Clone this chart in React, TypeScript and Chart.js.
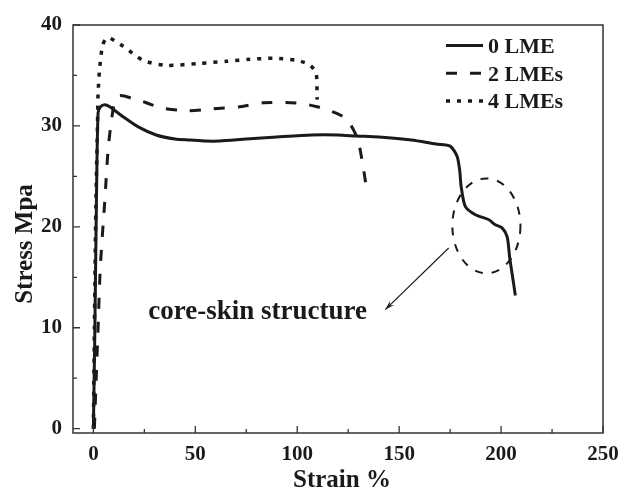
import React, { useEffect, useRef } from "react";
import { Chart, registerables } from "chart.js";

Chart.register(...registerables);

// ---- Data ----
const strain0 = [0, 0.7, 1.5, 2.3, 3.5, 5.6, 8, 14.6, 22, 30.8, 40, 47.5, 55, 62, 75, 90, 107, 120, 129, 140, 156, 168, 175, 178.4, 179.7, 180.4, 182.5, 187.4, 194, 197.2, 200.5, 203, 204.2, 205.9, 207];
const stress0 = [0, 9.5, 22.6, 31.3, 31.9, 32.1, 31.9, 30.9, 29.9, 29.1, 28.7, 28.6, 28.5, 28.5, 28.7, 28.9, 29.1, 29.1, 29.0, 28.9, 28.6, 28.2, 28.0, 27.0, 25.6, 24.0, 22.0, 21.2, 20.7, 20.2, 19.9, 19.0, 17.0, 14.7, 13.2];

const strain2 = [0.5, 1.2, 2.3, 3.4, 5.6, 7.2, 8.7, 10.5, 13, 19.5, 26, 33, 45.5, 58.8, 72, 83.4, 96.6, 103, 109.7, 116, 122.7, 126.5, 129.8, 132.3, 133.9];
const stress2 = [0, 4, 10, 16, 22.6, 27.6, 30.3, 32.4, 33.0, 32.7, 32.3, 31.8, 31.5, 31.7, 31.9, 32.3, 32.3, 32.2, 31.9, 31.5, 30.9, 30.0, 28.6, 26.0, 23.9];

const strain4 = [0, 0.5, 1.2, 2.0, 2.3, 3.0, 4.4, 6, 8, 14.6, 24.4, 35.7, 52.2, 65.3, 76.8, 88.4, 99.8, 106.4, 109.3, 109.7, 109.8];
const stress4 = [0, 10, 22, 30, 33.2, 35.5, 37.9, 38.6, 38.7, 37.9, 36.5, 36.0, 36.2, 36.4, 36.6, 36.7, 36.5, 36.0, 35.2, 32.9, 32.6];

const seriesLabels = ["0 LME", "2 LMEs", "4 LMEs"];
const xTicks = [0, 50, 100, 150, 200, 250];
const yTicks = [0, 10, 20, 30, 40];
const xMinorTicks = [25, 75, 125, 175, 225];
const yMinorTicks = [5, 15, 25, 35];
const xTitle = "Strain %";
const yTitle = "Stress Mpa";

// annotation (data units)
const annotationText = "core-skin structure";
const annotationTextAt = [26.9, 10.9];
const ellipseCenter = [192.8, 20.1];
const ellipseRadii = [16.7, 4.7];
const arrowFrom = [174.3, 17.9];
const arrowTo = [143.2, 11.8];

const FONT = "'Liberation Serif', 'Times New Roman', serif";
const INK = "#1a1a1a";

function toPoints(xs: number[], ys: number[]) {
  return xs.map((x, i) => ({ x, y: ys[i] }));
}

const decorPlugin = {
  id: "decor",
  afterDatasetsDraw(chart: any) {
    const { ctx, chartArea: a, scales } = chart;
    const xs = scales.x;
    const ys = scales.y;
    ctx.save();

    // frame
    ctx.strokeStyle = "#333";
    ctx.lineWidth = 1.5;
    ctx.setLineDash([]);
    ctx.strokeRect(a.left, a.top, a.right - a.left, a.bottom - a.top);

    // ticks (inward)
    ctx.lineWidth = 1.3;
    ctx.beginPath();
    xTicks.forEach((v) => {
      const px = xs.getPixelForValue(v);
      ctx.moveTo(px, a.bottom);
      ctx.lineTo(px, a.bottom - 7);
    });
    xMinorTicks.forEach((v) => {
      const px = xs.getPixelForValue(v);
      ctx.moveTo(px, a.bottom);
      ctx.lineTo(px, a.bottom - 4);
    });
    yTicks.forEach((v) => {
      const py = ys.getPixelForValue(v);
      ctx.moveTo(a.left, py);
      ctx.lineTo(a.left + 7, py);
    });
    yMinorTicks.forEach((v) => {
      const py = ys.getPixelForValue(v);
      ctx.moveTo(a.left, py);
      ctx.lineTo(a.left + 4, py);
    });
    ctx.stroke();

    // legend
    chart.data.datasets.forEach((ds: any, i: number) => {
      const y = a.top + 20.5 + i * 27.7;
      ctx.strokeStyle = INK;
      ctx.lineWidth = ds.borderWidth;
      ctx.setLineDash(ds.borderDash || []);
      ctx.beginPath();
      ctx.moveTo(a.right - 157, y);
      ctx.lineTo(a.right - 120, y);
      ctx.stroke();
      ctx.setLineDash([]);
      ctx.fillStyle = INK;
      ctx.font = `bold 22px ${FONT}`;
      ctx.textAlign = "left";
      ctx.textBaseline = "alphabetic";
      ctx.fillText(ds.label, a.right - 115, y + 7.5);
    });

    // ellipse
    const cx = xs.getPixelForValue(ellipseCenter[0]);
    const cy = ys.getPixelForValue(ellipseCenter[1]);
    const rx = Math.abs(xs.getPixelForValue(ellipseCenter[0] + ellipseRadii[0]) - cx);
    const ry = Math.abs(ys.getPixelForValue(ellipseCenter[1] + ellipseRadii[1]) - cy);
    ctx.strokeStyle = INK;
    ctx.lineWidth = 2;
    ctx.setLineDash([8, 9]);
    ctx.beginPath();
    ctx.ellipse(cx, cy, rx, ry, 0, 0, Math.PI * 2);
    ctx.stroke();
    ctx.setLineDash([]);

    // arrow
    const fx = xs.getPixelForValue(arrowFrom[0]);
    const fy = ys.getPixelForValue(arrowFrom[1]);
    const tx = xs.getPixelForValue(arrowTo[0]);
    const ty = ys.getPixelForValue(arrowTo[1]);
    ctx.lineWidth = 1.2;
    ctx.beginPath();
    ctx.moveTo(fx, fy);
    ctx.lineTo(tx, ty);
    ctx.stroke();
    const ang = Math.atan2(ty - fy, tx - fx);
    const hl = 10;
    ctx.beginPath();
    ctx.moveTo(tx, ty);
    ctx.lineTo(tx - hl * Math.cos(ang - 0.3), ty - hl * Math.sin(ang - 0.3));
    ctx.lineTo(tx - hl * 0.6 * Math.cos(ang), ty - hl * 0.6 * Math.sin(ang));
    ctx.lineTo(tx - hl * Math.cos(ang + 0.3), ty - hl * Math.sin(ang + 0.3));
    ctx.closePath();
    ctx.fillStyle = INK;
    ctx.fill();

    // annotation text
    ctx.font = `bold 27px ${FONT}`;
    ctx.textAlign = "left";
    ctx.textBaseline = "alphabetic";
    ctx.fillText(
      annotationText,
      xs.getPixelForValue(annotationTextAt[0]),
      ys.getPixelForValue(annotationTextAt[1])
    );

    // axis titles
    ctx.font = `bold 25px ${FONT}`;
    ctx.textAlign = "center";
    ctx.textBaseline = "alphabetic";
    ctx.fillText(xTitle, (a.left + a.right) / 2 + 4, a.bottom + 54);
    ctx.save();
    ctx.translate(32, (a.top + a.bottom) / 2 + 15);
    ctx.rotate(-Math.PI / 2);
    ctx.fillText(yTitle, 0, 0);
    ctx.restore();

    ctx.restore();
  },
};

export default function App() {
  const canvasRef = useRef<HTMLCanvasElement | null>(null);

  useEffect(() => {
    const canvas = canvasRef.current;
    if (!canvas) return;
    const common = { fill: false, pointRadius: 0, tension: 0.25, borderColor: INK, borderCapStyle: "butt" };
    const chart = new Chart(canvas, {
      type: "line",
      data: {
        datasets: [
          { ...common, label: seriesLabels[0], data: toPoints(strain0, stress0), borderWidth: 3, borderDash: [] },
          { ...common, label: seriesLabels[1], data: toPoints(strain2, stress2), borderWidth: 3, borderDash: [11, 13] },
          { ...common, label: seriesLabels[2], data: toPoints(strain4, stress4), borderWidth: 3.5, borderDash: [4, 7] },
        ],
      } as any,
      options: {
        animation: false,
        responsive: true,
        maintainAspectRatio: false,
        layout: { padding: { top: 25, right: 19, left: 0, bottom: 0 } },
        plugins: { legend: { display: false }, tooltip: { enabled: false } },
        scales: {
          x: {
            type: "linear",
            min: -10,
            max: 250,
            afterFit: (s: any) => { s.height = 58; s.paddingLeft = 0; s.paddingRight = 0; },
            afterBuildTicks: (s: any) => { s.ticks = xTicks.map((v) => ({ value: v })); },
            grid: { display: false, drawTicks: false },
            border: { display: false },
            ticks: { padding: 9, color: INK, font: { family: FONT, size: 21, weight: "bold" } },
          },
          y: {
            type: "linear",
            min: -0.43,
            max: 40,
            afterFit: (s: any) => { s.width = 73; s.paddingTop = 0; s.paddingBottom = 0; },
            afterBuildTicks: (s: any) => { s.ticks = yTicks.map((v) => ({ value: v })); },
            grid: { display: false, drawTicks: false },
            border: { display: false },
            ticks: { padding: 11, color: INK, font: { family: FONT, size: 21, weight: "bold" } },
          },
        },
      } as any,
      plugins: [decorPlugin],
    });
    return () => chart.destroy();
  }, []);

  return (
    <div style={{ position: "fixed", left: 0, top: 0, width: 622, height: 491, background: "#fff" }}>
      <canvas ref={canvasRef} />
    </div>
  );
}
